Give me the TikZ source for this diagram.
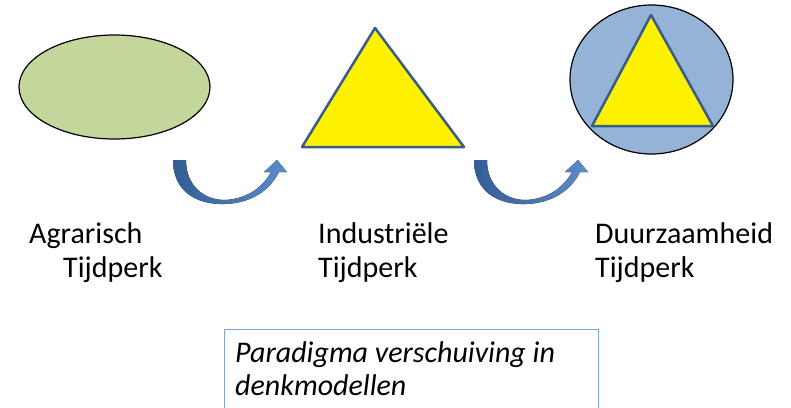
\documentclass[tikz,border=0pt]{standalone}
\usepackage{fontspec}
\setmainfont{Carlito}
\usetikzlibrary{shapes,positioning,calc}
\definecolor{agrargreen}{RGB}{195,214,155}
\definecolor{triblue}{RGB}{56,93,138}
\definecolor{roundblue}{RGB}{149,179,215}
\definecolor{arrowdark}{RGB}{52,93,148}
\definecolor{arrowlight}{RGB}{92,140,201}
\definecolor{boxblue}{RGB}{126,166,220}

\begin{document}
\begin{tikzpicture}[x = 1pt, y = -1pt,
  era/.style = {anchor = base west, align = left, inner sep = 0pt, font = \fontsize{30}{34}\selectfont},
  bend arrow/.style = {draw = none, left color = arrowdark, right color = arrowlight},
  outline/.style = {draw = black, line width = 1.2pt},
  tri/.style = {fill = yellow, draw = triblue, line width = 2.5pt, line join = round}]
\clip (0,0) rectangle (791,407);
\fill[white] (0,0) rectangle (791,407);
\draw[outline, fill = agrargreen] (114.5,87) ellipse [x radius = 95.5, y radius = 52];
\draw[tri] (375,28) -- (464,147) -- (302,147) -- cycle;
\draw[outline, fill = roundblue] (651.5,79.5) ellipse [x radius = 81.5, y radius = 74.5];
\draw[tri] (651,15) -- (713,126) -- (592,126) -- cycle;
\foreach \s in {0,301} {
  \fill[bend arrow, shift = {(\s,0)}] (173,160) .. controls (173,190) and (195,205) .. (225,204)
    .. controls (252,203) and (270,190) .. (279,172) -- (287,172) -- (277,160) -- (264,172) -- (271,172)
    .. controls (262,189) and (245,199) .. (225,200) .. controls (203,200) and (186,185) .. (186,160) -- cycle;
}
% base anchor sits on the last line
\node[era] (agrarisch) at (29,277) {Agrarisch\\\hspace*{34pt}Tijdperk};
\node[era] (industrie) at (318,277) {Industriële\\Tijdperk};
\node[era] (duurzaam) at (595,277) {Duurzaamheid\\Tijdperk};
\node[draw = boxblue, line width = 1pt, anchor = north west, minimum width = 374pt, minimum height = 110pt] (kader) at (224,329) {};
\node[era, font = \fontsize{30}{33}\selectfont\itshape] (paradigma) at (235,395) {Paradigma verschuiving in\\denkmodellen};
\end{tikzpicture}
\end{document}
